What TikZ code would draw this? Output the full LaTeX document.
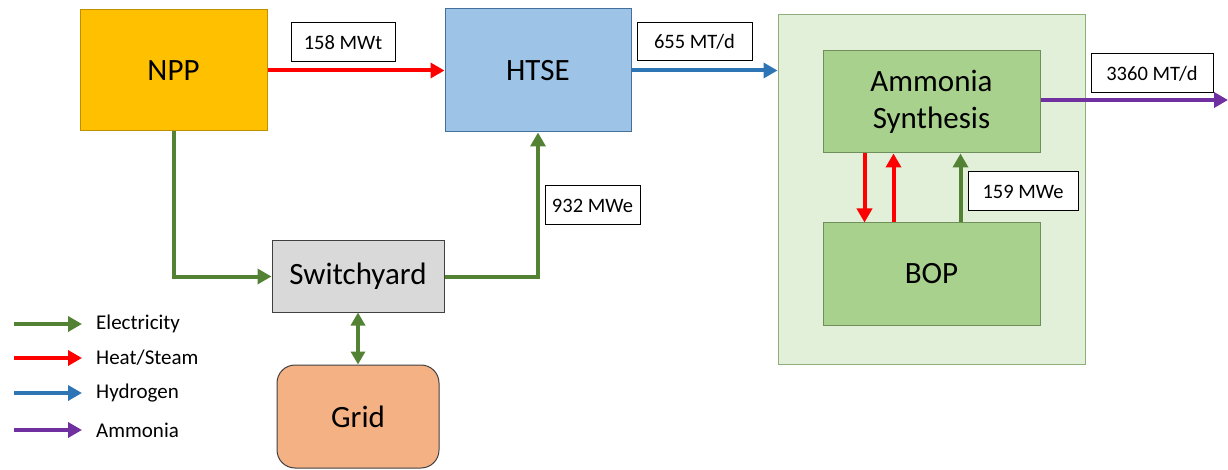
\documentclass[tikz,border=0pt]{standalone}
\usepackage{fontspec}
\setmainfont{Carlito}
\usetikzlibrary{arrows.meta,calc}
\definecolor{nppfill}{HTML}{FFC000}
\definecolor{nppdraw}{HTML}{BF9000}
\definecolor{htsefill}{HTML}{9DC3E6}
\definecolor{htsedraw}{HTML}{41719C}
\definecolor{swfill}{HTML}{D9D9D9}
\definecolor{gridfill}{HTML}{F4B183}
\definecolor{outerfill}{HTML}{E2F0D9}
\definecolor{outerdraw}{HTML}{8FAF7A}
\definecolor{innerfill}{HTML}{A9D18E}
\definecolor{innerdraw}{HTML}{6F8F5A}
\definecolor{elec}{HTML}{548235}
\definecolor{heat}{HTML}{FF0000}
\definecolor{hyd}{HTML}{2E75B6}
\definecolor{amm}{HTML}{7030A0}
\tikzset{
  blockbox/.style={draw, line width=1pt, font=\fontsize{31}{37}\selectfont, align=center, inner sep=0pt},
  labelbox/.style={draw=black, fill=white, line width=1pt, font=\fontsize{20.5}{24}\selectfont, inner sep=0pt},
  flow/.style={line width=4pt, -{Triangle[length=14pt,width=15pt]}},
  biflow/.style={line width=4pt, {Triangle[length=13pt,width=14pt]}-{Triangle[length=13pt,width=14pt]}},
  legtext/.style={anchor=west, font=\fontsize{21}{25}\selectfont, inner sep=0pt}
}
\begin{document}
\begin{tikzpicture}[x=1pt,y=-1pt]
\useasboundingbox (0,0) rectangle (1228,470);
% blocks
\node[blockbox, fill=nppfill, draw=nppdraw, minimum width=187pt, minimum height=121pt] (npp) at (173.5,70.5) {NPP};
\node[blockbox, fill=htsefill, draw=htsedraw, minimum width=186pt, minimum height=123pt] (htse) at (538,70.5) {HTSE};
\node[draw=outerdraw, fill=outerfill, line width=1pt, minimum width=307pt, minimum height=349pt, inner sep=0pt] (outer) at (931.5,189.5) {};
\node[blockbox, fill=innerfill, draw=innerdraw, minimum width=217pt, minimum height=102pt] (syn) at (931.5,102) {Ammonia\\Synthesis};
\node[blockbox, fill=innerfill, draw=innerdraw, minimum width=217pt, minimum height=102pt] (bop) at (931.5,274) {BOP};
\node[blockbox, fill=swfill, draw=black!75, minimum width=172pt, minimum height=71pt] (sw) at (358,276.5) {Switchyard};
\node[blockbox, fill=gridfill, draw=black!75, rounded corners=18pt, minimum width=162pt, minimum height=103pt] (grid) at (358,416.5) {Grid};
% labels
\node[labelbox, minimum width=104pt, minimum height=39pt] (l158) at (343,42.5) {158 MWt};
\node[labelbox, minimum width=115pt, minimum height=38pt] (l655) at (694.5,42) {655 MT/d};
\node[labelbox, minimum width=122pt, minimum height=39pt] (l3360) at (1152,73.5) {3360 MT/d};
\node[labelbox, minimum width=95pt, minimum height=39pt] (l932) at (592.5,205.5) {932 MWe};
\node[labelbox, minimum width=110pt, minimum height=39pt] (l159) at (1023,191.5) {159 MWe};
% connectors
\draw[flow, heat] (npp.east) -- (htse.west);
\draw[flow, hyd] (htse.east) -- (htse.east -| outer.west);
\coordinate (ammend) at (1228,100);
\draw[flow, amm] (syn.east |- ammend) -- (ammend);
\draw[flow, elec] (npp.south) |- (sw.west);
\draw[flow, elec] (sw.east) -| (htse.south);
\draw[biflow, elec] (sw.south -| grid.north) -- (grid.north);
\draw[flow, heat] ($(syn.south west)+(42,0)$) -- ($(bop.north west)+(42,0)$);
\draw[flow, heat] ($(bop.north west)+(71,0)$) -- ($(syn.south west)+(71,0)$);
\draw[flow, elec] ($(bop.north west)+(138,0)$) -- ($(syn.south west)+(138,0)$);
% legend
\coordinate (e1) at (14,324); \coordinate (e2) at (82,324);
\coordinate (h1) at (14,358); \coordinate (h2) at (82,358);
\coordinate (y1) at (14,393); \coordinate (y2) at (82,393);
\coordinate (a1) at (14,430); \coordinate (a2) at (82,430);
\draw[flow, elec] (e1) -- (e2);
\draw[flow, heat] (h1) -- (h2);
\draw[flow, hyd] (y1) -- (y2);
\draw[flow, amm] (a1) -- (a2);
\node[legtext] (te) at (96,324) {Electricity};
\node[legtext] (th) at (96,358) {Heat/Steam};
\node[legtext] (ty) at (96,393) {Hydrogen};
\node[legtext] (ta) at (96,430) {Ammonia};
\end{tikzpicture}
\end{document}
